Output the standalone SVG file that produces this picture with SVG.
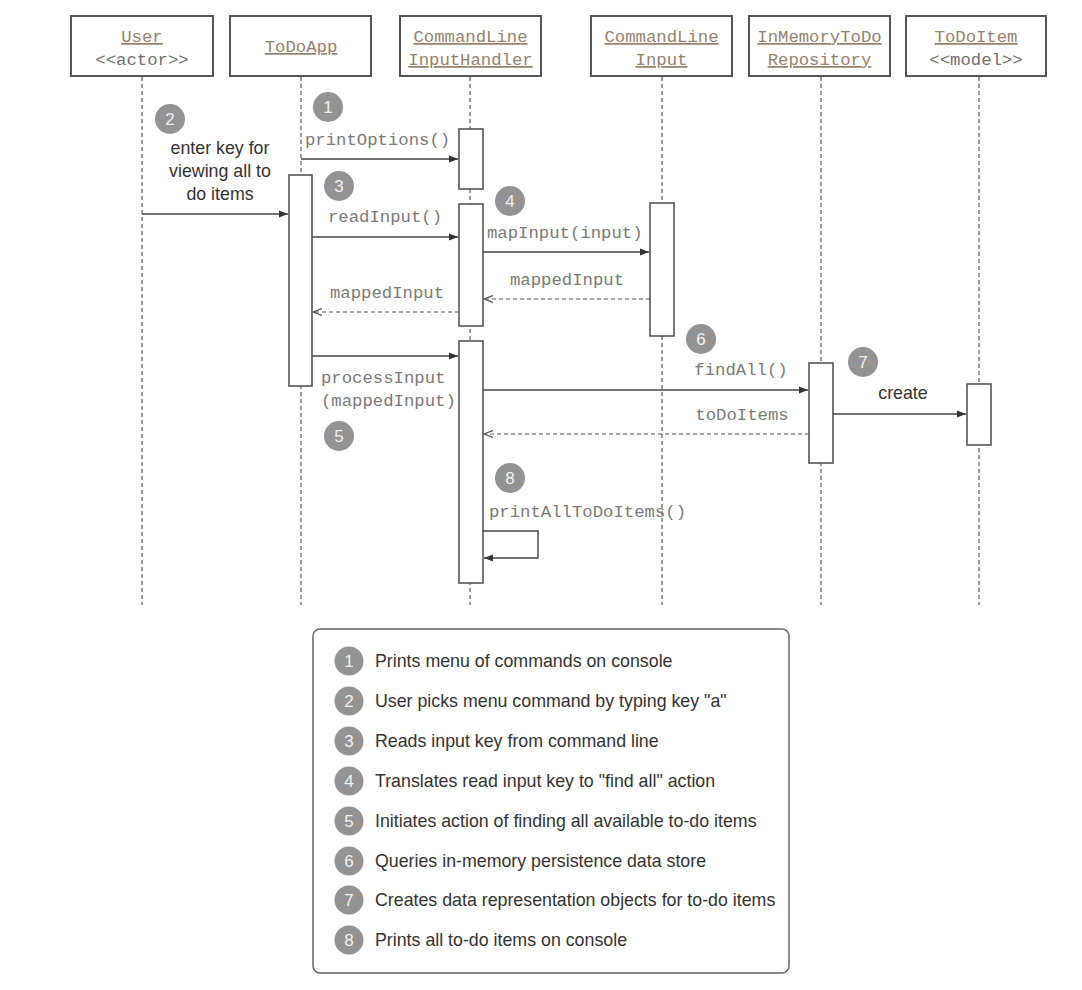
<svg xmlns="http://www.w3.org/2000/svg" width="1082" height="990" viewBox="0 0 1082 990">
<defs>
<style>
.hdr{fill:#fff;stroke:#555;stroke-width:2}
.name{font-family:"Liberation Mono",monospace;font-size:17.3px;fill:#95826e;text-anchor:middle;text-decoration:underline}
.stereo{font-family:"Liberation Mono",monospace;font-size:17.3px;fill:#707070;text-anchor:middle}
.life{stroke:#666;stroke-width:1.3;stroke-dasharray:4 3;fill:none}
.bar{fill:#fff;stroke:#555;stroke-width:1.6}
.msg{stroke:#444;stroke-width:1.4;fill:none}
.ret{stroke:#555;stroke-width:1.2;stroke-dasharray:4 3;fill:none}
.lbl{font-family:"Liberation Mono",monospace;font-size:17.3px;fill:#7a7a7a}
.sans{font-family:"Liberation Sans",Arial,sans-serif;font-size:17.8px;fill:#333}
.num{fill:#939393}
.numt{font-family:"Liberation Sans",Arial,sans-serif;font-size:17px;fill:#f2f2f2;text-anchor:middle}
</style>
<marker id="ah" markerUnits="userSpaceOnUse" markerWidth="10" markerHeight="8" refX="9" refY="4" orient="auto"><path d="M0,0.5 L9,4 L0,7.5 z" fill="#333"/></marker>
<marker id="oh2" markerUnits="userSpaceOnUse" markerWidth="10" markerHeight="8" refX="9" refY="4" orient="auto"><path d="M0,0.5 L9,4 L0,7.5" fill="none" stroke="#555" stroke-width="1.2"/></marker>
</defs>
<rect width="1082" height="990" fill="#fff"/>

<g id="lifelines">
<line class="life" x1="142" y1="77" x2="142" y2="605"/>
<line class="life" x1="301" y1="77" x2="301" y2="605"/>
<line class="life" x1="470" y1="77" x2="470" y2="605"/>
<line class="life" x1="662" y1="77" x2="662" y2="605"/>
<line class="life" x1="821" y1="77" x2="821" y2="605"/>
<line class="life" x1="979" y1="77" x2="979" y2="605"/>
</g>

<g id="node-user">
<rect class="hdr" x="71" y="16" width="142" height="60"/>
<text class="name" x="142" y="42">User</text>
<text class="stereo" x="142" y="65">&lt;&lt;actor&gt;&gt;</text>
</g>
<g id="node-todoapp">
<rect class="hdr" x="230" y="16" width="141" height="60"/>
<text class="name" x="301" y="52">ToDoApp</text>
</g>
<g id="node-clih">
<rect class="hdr" x="400" y="16" width="141" height="60"/>
<text class="name" x="470.5" y="42">CommandLine</text>
<text class="name" x="470.5" y="65">InputHandler</text>
</g>
<g id="node-cli">
<rect class="hdr" x="591" y="16" width="141" height="60"/>
<text class="name" x="661.5" y="42">CommandLine</text>
<text class="name" x="661.5" y="65">Input</text>
</g>
<g id="node-repo">
<rect class="hdr" x="749" y="16" width="141" height="60"/>
<text class="name" x="819.5" y="42">InMemoryToDo</text>
<text class="name" x="819.5" y="65">Repository</text>
</g>
<g id="node-todoitem">
<rect class="hdr" x="906" y="16" width="140" height="60"/>
<text class="name" x="976" y="42">ToDoItem</text>
<text class="stereo" x="976" y="65">&lt;&lt;model&gt;&gt;</text>
</g>

<g id="activations">
<rect class="bar" x="289" y="175" width="23" height="211"/>
<rect class="bar" x="459" y="129" width="24" height="60"/>
<rect class="bar" x="459" y="204" width="24" height="122"/>
<rect class="bar" x="650" y="203" width="24" height="133"/>
<rect class="bar" x="459" y="341" width="24" height="242"/>
<rect class="bar" x="809" y="363" width="24" height="100"/>
<rect class="bar" x="967" y="384" width="24" height="61"/>
</g>

<g id="connectors">
<line class="msg" x1="301" y1="159" x2="458" y2="159" marker-end="url(#ah)"/>
<line class="msg" x1="142" y1="214" x2="288" y2="214" marker-end="url(#ah)"/>
<line class="msg" x1="312" y1="237" x2="458" y2="237" marker-end="url(#ah)"/>
<line class="msg" x1="483" y1="252" x2="649" y2="252" marker-end="url(#ah)"/>
<line class="ret" x1="650" y1="299" x2="484" y2="299" marker-end="url(#oh2)"/>
<line class="ret" x1="459" y1="312" x2="313" y2="312" marker-end="url(#oh2)"/>
<line class="msg" x1="312" y1="356" x2="458" y2="356" marker-end="url(#ah)"/>
<line class="msg" x1="483" y1="390" x2="808" y2="390" marker-end="url(#ah)"/>
<line class="ret" x1="809" y1="434" x2="484" y2="434" marker-end="url(#oh2)"/>
<line class="msg" x1="833" y1="414" x2="966" y2="414" marker-end="url(#ah)"/>
<path class="msg" d="M483,531 H538 V558 H484" marker-end="url(#ah)"/>
</g>

<g id="labels">
<text class="lbl" x="305" y="145">printOptions()</text>
<text class="lbl" x="385" y="222" text-anchor="middle">readInput()</text>
<text class="lbl" x="487" y="238">mapInput(input)</text>
<text class="lbl" x="567" y="285" text-anchor="middle">mappedInput</text>
<text class="lbl" x="387" y="298" text-anchor="middle">mappedInput</text>
<text class="lbl" x="321" y="383">processInput</text>
<text class="lbl" x="321" y="406">(mappedInput)</text>
<text class="lbl" x="741" y="375" text-anchor="middle">findAll()</text>
<text class="lbl" x="742" y="420" text-anchor="middle">toDoItems</text>
<text class="lbl" x="489" y="517">printAllToDoItems()</text>
<text class="sans" x="220" y="154" text-anchor="middle">enter key for</text>
<text class="sans" x="220" y="177" text-anchor="middle">viewing all to</text>
<text class="sans" x="220" y="200" text-anchor="middle">do items</text>
<text class="sans" x="903" y="399" text-anchor="middle">create</text>
</g>

<g id="step-markers">
<circle class="num" cx="328" cy="107" r="15"/><text class="numt" x="328" y="113">1</text>
<circle class="num" cx="170" cy="119" r="15"/><text class="numt" x="170" y="125">2</text>
<circle class="num" cx="339" cy="186" r="15"/><text class="numt" x="339" y="192">3</text>
<circle class="num" cx="510" cy="201" r="15"/><text class="numt" x="510" y="207">4</text>
<circle class="num" cx="339" cy="436" r="15"/><text class="numt" x="339" y="442">5</text>
<circle class="num" cx="701" cy="339" r="15"/><text class="numt" x="701" y="345">6</text>
<circle class="num" cx="863" cy="362" r="15"/><text class="numt" x="863" y="368">7</text>
<circle class="num" cx="510" cy="478" r="15"/><text class="numt" x="510" y="484">8</text>
</g>

<g id="legend">
<rect x="313" y="629" width="476" height="344" rx="7" fill="#fff" stroke="#666" stroke-width="1.5"/>
<circle class="num" cx="349" cy="661" r="14.5"/><text class="numt" x="349" y="667">1</text>
<text class="sans" x="375" y="667">Prints menu of commands on console</text>
<circle class="num" cx="349" cy="701" r="14.5"/><text class="numt" x="349" y="707">2</text>
<text class="sans" x="375" y="707">User picks menu command by typing key "a"</text>
<circle class="num" cx="349" cy="741" r="14.5"/><text class="numt" x="349" y="747">3</text>
<text class="sans" x="375" y="747">Reads input key from command line</text>
<circle class="num" cx="349" cy="781" r="14.5"/><text class="numt" x="349" y="787">4</text>
<text class="sans" x="375" y="787">Translates read input key to "find all" action</text>
<circle class="num" cx="349" cy="821" r="14.5"/><text class="numt" x="349" y="827">5</text>
<text class="sans" x="375" y="827">Initiates action of finding all available to-do items</text>
<circle class="num" cx="349" cy="861" r="14.5"/><text class="numt" x="349" y="867">6</text>
<text class="sans" x="375" y="867">Queries in-memory persistence data store</text>
<circle class="num" cx="349" cy="900" r="14.5"/><text class="numt" x="349" y="906">7</text>
<text class="sans" x="375" y="906">Creates data representation objects for to-do items</text>
<circle class="num" cx="349" cy="940" r="14.5"/><text class="numt" x="349" y="946">8</text>
<text class="sans" x="375" y="946">Prints all to-do items on console</text>
</g>
</svg>
